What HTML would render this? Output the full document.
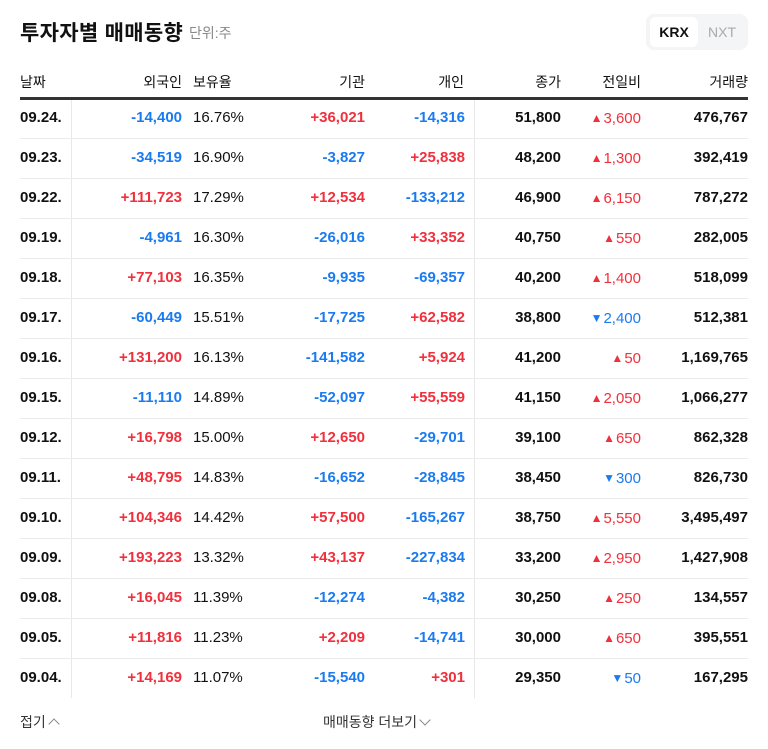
<!DOCTYPE html>
<html><head><meta charset="utf-8">
<style>
body{margin:0;width:768px;height:749px;background:#fff;font-family:"Liberation Sans","Noto Sans CJK KR",sans-serif;position:relative;overflow:hidden;color:#111}
.abs{position:absolute}
.title{left:20px;top:17px;font-size:21px;font-weight:bold;letter-spacing:0.3px;color:#111}
.unit{left:189px;top:23px;font-size:14px;color:#888}
.toggle{left:646px;top:14px;width:102px;height:36px;background:#f4f5f7;border-radius:8px}
.krx{left:650px;top:17px;width:48px;height:30px;background:#fff;border-radius:6px;font-size:14px;font-weight:bold;line-height:30px;text-align:center;color:#111}
.nxt{left:700px;top:17px;width:44px;height:30px;font-size:14px;line-height:30px;text-align:center;color:#aaa}
.hd{top:72px;font-size:14px;color:#111;white-space:nowrap}
.line{left:20px;width:728px;top:97px;height:3px;background:#333}
.cell{position:absolute;font-size:15px;white-space:nowrap;line-height:20px}
.b{font-weight:bold}
.r{color:#f0303c}.bl{color:#1a7bf0}
.sep{position:absolute;width:1px;background:#e8e8e8;top:100px;height:598px}
.rowline{position:absolute;left:20px;width:728px;height:1px;background:#ececec}
.foot{top:712px;font-size:14px;color:#333}
.chev{display:inline-block;width:7px;height:7px;border-left:1px solid #888;border-top:1px solid #888;margin-left:4px}
</style></head><body>
<div class="abs title">투자자별 매매동향</div>
<div class="abs unit">단위:주</div>
<div class="abs toggle"></div>
<div class="abs krx">KRX</div>
<div class="abs nxt">NXT</div>
<div class="abs hd" style="left:20px">날짜</div>
<div class="abs hd" style="right:586px">외국인</div>
<div class="abs hd" style="left:193px">보유율</div>
<div class="abs hd" style="right:403px">기관</div>
<div class="abs hd" style="right:304px">개인</div>
<div class="abs hd" style="right:207px">종가</div>
<div class="abs hd" style="right:127px">전일비</div>
<div class="abs hd" style="right:20px">거래량</div>
<div class="abs line"></div>
<div class="sep" style="left:71px"></div>
<div class="sep" style="left:474px"></div>
<div id="rows"></div>
<div class="abs foot" style="left:20px">접기<span class="chev" style="transform:rotate(45deg);vertical-align:-1px"></span></div>
<div class="abs foot" style="left:323px">매매동향 더보기<span class="chev" style="transform:rotate(225deg);vertical-align:3px"></span></div>
<script>
const dates=["09.24.","09.23.","09.22.","09.19.","09.18.","09.17.","09.16.","09.15.","09.12.","09.11.","09.10.","09.09.","09.08.","09.05.","09.04."];
const foreign=["-14,400","-34,519","+111,723","-4,961","+77,103","-60,449","+131,200","-11,110","+16,798","+48,795","+104,346","+193,223","+16,045","+11,816","+14,169"];
const ratio=["16.76%","16.90%","17.29%","16.30%","16.35%","15.51%","16.13%","14.89%","15.00%","14.83%","14.42%","13.32%","11.39%","11.23%","11.07%"];
const inst=["+36,021","-3,827","+12,534","-26,016","-9,935","-17,725","-141,582","-52,097","+12,650","-16,652","+57,500","+43,137","-12,274","+2,209","-15,540"];
const indiv=["-14,316","+25,838","-133,212","+33,352","-69,357","+62,582","+5,924","+55,559","-29,701","-28,845","-165,267","-227,834","-4,382","-14,741","+301"];
const closep=["51,800","48,200","46,900","40,750","40,200","38,800","41,200","41,150","39,100","38,450","38,750","33,200","30,250","30,000","29,350"];
const change=["▲3,600","▲1,300","▲6,150","▲550","▲1,400","▼2,400","▲50","▲2,050","▲650","▼300","▲5,550","▲2,950","▲250","▲650","▼50"];
const volume=["476,767","392,419","787,272","282,005","518,099","512,381","1,169,765","1,066,277","862,328","826,730","3,495,497","1,427,908","134,557","395,551","167,295"];
const root=document.getElementById('rows');
function col(v){return v[0]==='+'?'r':(v[0]==='-'?'bl':'');}
function mk(cls,txt,pos,top,name){const d=document.createElement('div');d.className='cell '+cls;d.textContent=txt;d.style.top=top+'px';
if(pos.l!==undefined)d.style.left=pos.l+'px';else d.style.right=pos.r+'px';


root.appendChild(d);return d;}
dates.forEach((dt,i)=>{const top=108+i*40;
mk('b',dt,{l:20},top,'date-cell');
mk('b '+col(foreign[i]),foreign[i],{r:586},top,'foreign-cell');
mk('',ratio[i],{l:193},top,'ratio-cell');
mk('b '+col(inst[i]),inst[i],{r:403},top,'institution-cell');
mk('b '+col(indiv[i]),indiv[i],{r:303},top,'individual-cell');
mk('b',closep[i],{r:207},top,'close-cell');
const up=change[i][0]==='▲';
const c=mk(up?'r':'bl','',{r:127},top,'change-cell');
c.innerHTML='<span style="font-size:12px;vertical-align:1px;margin-right:1px">'+change[i][0]+'</span>'+change[i].slice(1);
mk('b',volume[i],{r:20},top,'volume-cell');
if(i<dates.length-1){const l=document.createElement('div');l.className='rowline';l.style.top=(138+i*40)+'px';


root.appendChild(l);}
});
</script>
</body></html>
